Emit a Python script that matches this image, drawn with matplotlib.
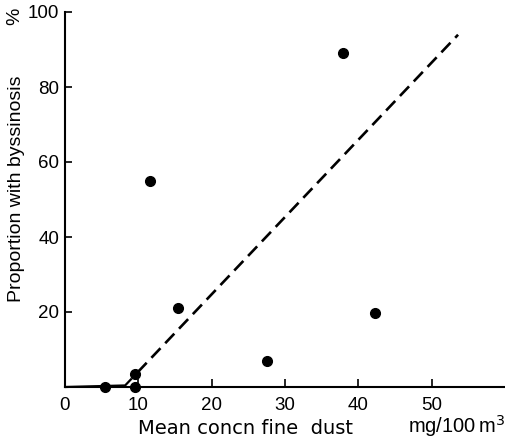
import matplotlib
matplotlib.use("Agg")
import matplotlib.pyplot as plt
import numpy as np

plt.rcParams['font.family'] = ['Liberation Sans', 'DejaVu Sans']

# Data
dust = [5.4, 9.5, 9.5, 11.6, 15.4, 27.5, 37.9, 42.3]
byssinosis = [0.0, 0.0, 3.5, 55.0, 21.0, 7.0, 89.0, 19.8]

# Fitted line: y = slope * (x - x_intercept)
fit_x_intercept = 8.0
fit_slope = 2.06
fit_solid_x = [0.0, 8.2, 9.1]
fit_dash_x = [9.9, 53.6]

x_ticks = [0, 10, 20, 30, 40, 50]
y_ticks = [20, 40, 60, 80, 100]

W, H = 506, 443
fig = plt.figure(figsize=(W / 100, H / 100), dpi=100)
ax = fig.add_axes([65 / W, (H - 387) / H, 440 / W, 375 / H])
ax.set_xlim(0, 60)
ax.set_ylim(0, 100)

def fit(xs):
    return [max(0.0, fit_slope * (x - fit_x_intercept)) for x in xs]

ax.plot(fit_solid_x, fit(fit_solid_x), color='black', lw=1.6, solid_capstyle='butt', clip_on=False)
ax.plot(fit_dash_x, fit(fit_dash_x), color='black', lw=1.9, dashes=(5, 2.6), clip_on=False)
ax.plot(dust, byssinosis, 'o', color='black', ms=7, clip_on=False, zorder=5)

for s in ['top', 'right']:
    ax.spines[s].set_visible(False)
for s in ['left', 'bottom']:
    ax.spines[s].set_linewidth(1.5)

ax.set_xticks(x_ticks)
ax.set_xticklabels([str(v) for v in x_ticks])
ax.set_yticks(y_ticks)
ax.set_yticklabels([str(v) for v in y_ticks])
ax.tick_params(axis='x', direction='in', length=6, width=1.2, labelsize=13.5, pad=7)
ax.tick_params(axis='y', direction='in', length=5, width=1.2, labelsize=13.5, pad=4)

def ftext(x, y, s, **kw):
    fig.text(x / W, 1 - y / H, s, **kw)

ftext(17, 189, 'Proportion with byssinosis', rotation=90, ha='center', va='center', fontsize=14)
ftext(15, 16, '%', rotation=90, ha='center', va='center', fontsize=14)
ftext(246, 428, 'Mean concn fine  dust', ha='center', va='center', fontsize=14,
      family=['DejaVu Sans'])
ftext(505, 426, 'mg/100$\\,$m$^3$', ha='right', va='center', fontsize=14.5)

fig.savefig('out.png', dpi=100)
